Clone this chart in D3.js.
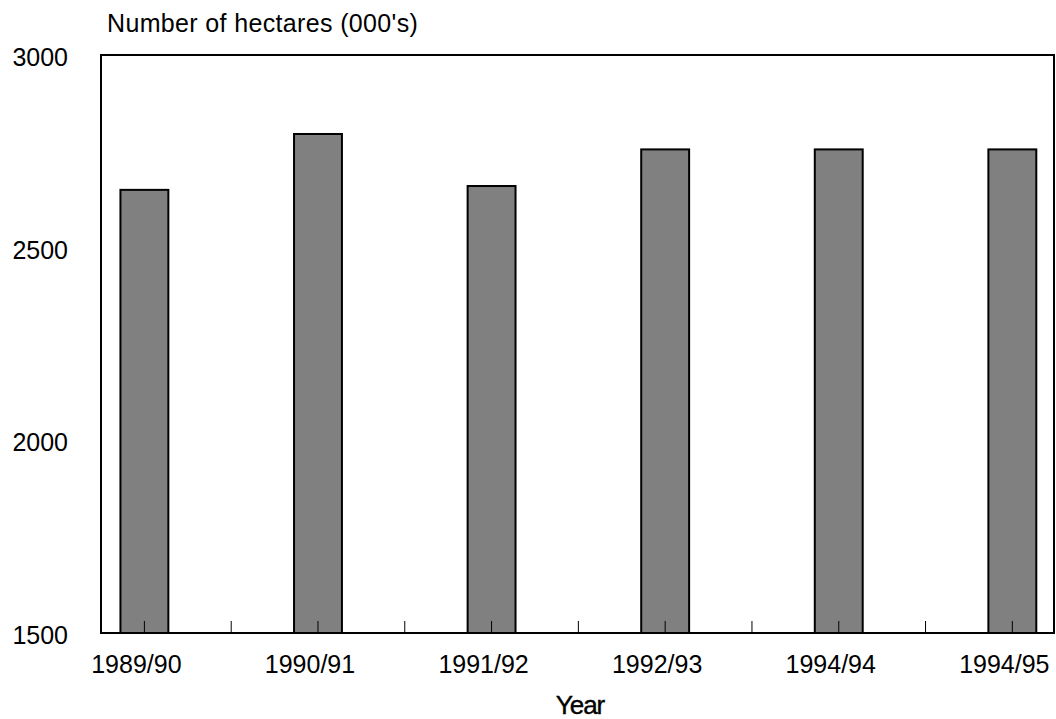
<!DOCTYPE html>
<html>
<head>
<meta charset="utf-8">
<script src="https://cdn.jsdelivr.net/npm/d3@7"></script>
<style>
  body { margin: 0; background: #fff; }
  text { font-family: "Liberation Sans", Arial, sans-serif; fill: #000; }
</style>
</head>
<body>
<div class="plot"></div>
<script>
// data
var years = ["1989/90", "1990/91", "1991/92", "1992/93", "1994/94", "1994/95"];
var hectares = [2650, 2795, 2660, 2755, 2755, 2755];
var y_ticks = [1500, 2000, 2500, 3000];

var width = 1056, height = 719;
var margin = {top: 55, right: 2, bottom: 86, left: 101};
var font_size = 25;

var svg = d3.select(".plot")
  .append("svg")
  .attr("width", width)
  .attr("height", height);

// x: category index, with odd padding like the original
var x = d3.scaleLinear()
  .domain([-0.25, 5.24])
  .range([margin.left, width - margin.right]);

var y = d3.scaleLinear()
  .domain([1500, 3000])
  .range([height - margin.bottom, margin.top]);

var bar_half = 0.138;

// bars
svg.append("g")
  .selectAll("rect")
  .data(hectares)
  .enter()
  .append("rect")
    .attr("x", function(d, i) { return x(i - bar_half); })
    .attr("y", function(d) { return y(d); })
    .attr("width", function(d, i) { return x(i + bar_half) - x(i - bar_half); })
    .attr("height", function(d) { return y(1500) - y(d); })
    .style("fill", "#808080")
    .style("stroke", "#000")
    .style("stroke-width", 2);

// inward ticks at centres and midpoints
var tick_pos = d3.range(0, years.length - 0.5 + 0.01, 0.5);
svg.append("g")
  .selectAll("line")
  .data(tick_pos)
  .enter()
  .append("line")
    .attr("x1", function(d) { return x(d); })
    .attr("x2", function(d) { return x(d); })
    .attr("y1", y(1500))
    .attr("y2", y(1500) - 12)
    .style("stroke", "#000")
    .style("stroke-width", 1);

// plot frame
svg.append("rect")
  .attr("x", x.range()[0])
  .attr("y", y(3000))
  .attr("width", x.range()[1] - x.range()[0])
  .attr("height", y(1500) - y(3000))
  .style("fill", "none")
  .style("stroke", "#000")
  .style("stroke-width", 2);

// y labels
svg.append("g")
  .selectAll("text")
  .data(y_ticks)
  .enter()
  .append("text")
    .attr("x", 68)
    .attr("y", function(d) { return y(d) + 11; })
    .attr("text-anchor", "end")
    .style("font-size", font_size + "px")
    .text(function(d) { return d; });

// x labels (sit a little left of the bar centres in the original)
svg.append("g")
  .selectAll("text")
  .data(years)
  .enter()
  .append("text")
    .attr("x", function(d, i) { return x(i) - 8; })
    .attr("y", 673)
    .attr("text-anchor", "middle")
    .style("font-size", font_size + "px")
    .text(function(d) { return d; });

// axis titles
svg.append("text")
  .attr("x", 107)
  .attr("y", 32)
  .style("font-size", font_size + "px")
  .style("letter-spacing", "0.35px")
  .text("Number of hectares (000's)");

svg.append("text")
  .attr("x", 580)
  .attr("y", 714)
  .attr("text-anchor", "middle")
  .style("font-size", "26px")
  .style("letter-spacing", "-1px")
  .style("stroke", "#000")
  .style("stroke-width", 0.4)
  .text("Year");
</script>
</body>
</html>
